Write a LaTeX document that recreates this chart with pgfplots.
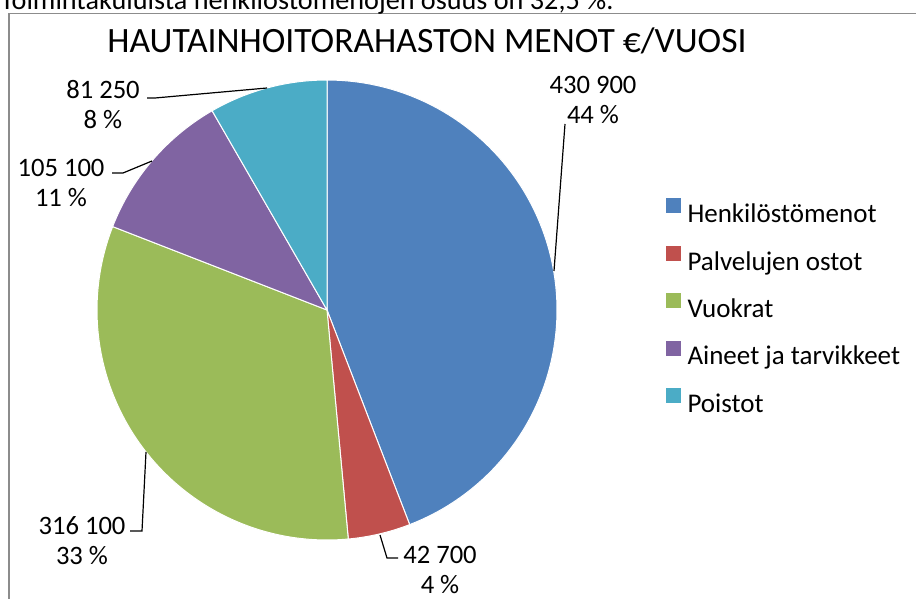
\documentclass[border=0pt]{standalone}
\usepackage{fontspec}
\setmainfont{Carlito}
\usepackage{pgfplots}
\pgfplotsset{compat=1.18}

% menot, tuhatta euroa
\def\vA{430.9}  % Henkilöstömenot
\def\vB{42.7}   % Palvelujen ostot
\def\vC{316.1}  % Vuokrat
\def\vD{105.1}  % Aineet ja tarvikkeet
\def\vE{81.25}  % Poistot

\definecolor{cA}{HTML}{4F81BD}
\definecolor{cB}{HTML}{C0504D}
\definecolor{cC}{HTML}{9BBB59}
\definecolor{cD}{HTML}{8064A2}
\definecolor{cE}{HTML}{4BACC6}

\pgfmathsetmacro\tot{\vA+\vB+\vC+\vD+\vE}
\pgfmathsetmacro\aA{90-(\vA/\tot)*360}
\pgfmathsetmacro\aB{\aA-(\vB/\tot)*360}
\pgfmathsetmacro\aC{\aB-(\vC/\tot)*360}
\pgfmathsetmacro\aD{\aC-(\vD/\tot)*360}

\begin{document}
\begin{tikzpicture}
\begin{axis}[
  at={(163.5pt,-155pt)}, anchor=origin,
  x=115pt, y=115pt,
  xmin=-1.02, xmax=1.02, ymin=-1.02, ymax=1.02,
  hide axis, clip=false,
  samples=90,
  every axis plot/.append style={draw=white, line width=0.5pt},
  legend image code/.code={\fill[#1, draw=none] (0pt,0pt) rectangle (7.5pt,7.5pt);},
  legend style={at={(axis cs:1.47,0.487)}, anchor=north west, draw=none, fill=none,
    font=\fontsize{13.5}{15}\selectfont, row sep=11.5pt, inner sep=0pt,
    nodes={inner sep=0pt, text depth=0pt},
    /tikz/every odd column/.append style={column sep=3.5pt}},
  legend cell align=left,
]
\addplot[fill=cA, domain=\aA:90] ({cos(x)},{sin(x)}) -- (axis cs:0,0) -- cycle;
\addlegendentry{Henkilöstömenot}
\addplot[fill=cB, domain=\aB:\aA] ({cos(x)},{sin(x)}) -- (axis cs:0,0) -- cycle;
\addlegendentry{Palvelujen ostot}
\addplot[fill=cC, domain=\aC:\aB] ({cos(x)},{sin(x)}) -- (axis cs:0,0) -- cycle;
\addlegendentry{Vuokrat}
\addplot[fill=cD, domain=\aD:\aC] ({cos(x)},{sin(x)}) -- (axis cs:0,0) -- cycle;
\addlegendentry{Aineet ja tarvikkeet}
\addplot[fill=cE, domain=-270:\aD] ({cos(x)},{sin(x)}) -- (axis cs:0,0) -- cycle;
\addlegendentry{Poistot}
\end{axis}

\begin{scope}[x=0.5pt, y=-0.5pt]
  % kaavion kehys
  \draw[black!45, line width=0.8pt] (9,660) -- (9,13.5) -- (960,13.5);
  % leikattu teksti ylhäällä
  \node[anchor=base west, inner sep=0pt, font=\fontsize{14.1}{16}\selectfont] at (0,10)
    {Toimintakuluista henkilöstömenojen osuus on 32,5 \%.};
  % otsikko
  \node[anchor=base, inner sep=0pt, font=\fontsize{17.8}{20}\selectfont] at (427,53)
    {HAUTAINHOITORAHASTON MENOT €/VUOSI};
  % arvot ja johtoviivat
  \begin{scope}[every node/.style={align=center, inner sep=0pt,
      font=\fontsize{13.3}{15}\selectfont}]
    \node at (593,100) {430 900\\44 \%};
    \draw[line width=0.6pt] (565,124) -- (554,271);
    \node at (103,105) {81 250\\8 \%};
    \draw[line width=0.6pt] (147,98) -- (155,98) -- (267,88);
    \node at (61,183) {105 100\\11 \%};
    \draw[line width=0.6pt] (112,173) -- (123,173) -- (152,161);
    \node at (82,541) {316 100\\33 \%};
    \draw[line width=0.6pt] (130,531) -- (142,531) -- (146,452);
    \node at (440,570) {42 700\\4 \%};
    \draw[line width=0.6pt] (380,535) -- (387,558) -- (398,558);
  \end{scope}
  \pgfresetboundingbox
  \useasboundingbox (0,0) rectangle (916,599);
\end{scope}
\end{tikzpicture}
\end{document}
